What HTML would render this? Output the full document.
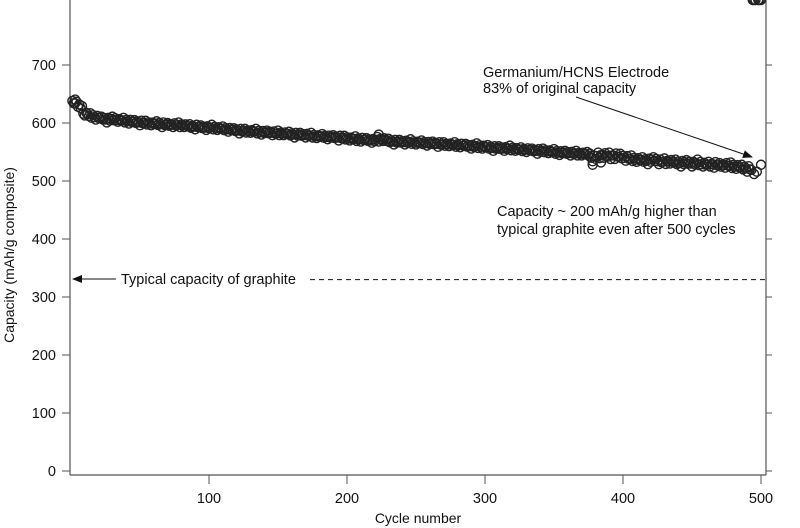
<!DOCTYPE html>
<html><head><meta charset="utf-8"><style>
html,body{margin:0;padding:0;background:#fff;}
svg{display:block;font-family:"Liberation Sans",sans-serif;}
</style></head><body>
<svg id="chart" width="800" height="528" viewBox="0 0 800 528" xmlns="http://www.w3.org/2000/svg">
<defs><marker id="ah" markerWidth="10" markerHeight="8" refX="9" refY="4" orient="auto" markerUnits="userSpaceOnUse"><path d="M0,0 L10,4 L0,8 z" fill="#111"/></marker></defs>
<g id="axes"></g>
<g id="marks"></g>
<g>
<text x="483" y="77" font-size="14.5" fill="#111">Germanium/HCNS Electrode</text>
<text x="483" y="93" font-size="14.5" fill="#111">83% of original capacity</text>
<line x1="576" y1="97" x2="752" y2="157" stroke="#111" stroke-width="1" marker-end="url(#ah)"/>
<text x="497" y="216" font-size="14.5" fill="#111">Capacity ~ 200 mAh/g higher than</text>
<text x="497" y="234" font-size="14.5" fill="#111">typical graphite even after 500 cycles</text>
<text x="121" y="284" font-size="14.5" fill="#111">Typical capacity of graphite</text>
<line x1="116" y1="279" x2="73" y2="279" stroke="#111" stroke-width="1" marker-end="url(#ah)"/>
<line id="graphline" x1="310" x2="766" stroke="#111" stroke-width="1" stroke-dasharray="5,4"/>
</g>
<text transform="translate(14,255) rotate(-90)" text-anchor="middle" font-size="14" fill="#111">Capacity (mAh/g composite)</text>
<text x="418" y="523" text-anchor="middle" font-size="14" fill="#111">Cycle number</text>
</svg>
<script>
const xTicks=[100,200,300,400,500];
const yTicks=[0,100,200,300,400,500,600,700];
const startCycle=1, cycleStep=4;
const capacity=[638,628,616,612,610,608,606,607,605,604,603,602,601,600,599,599,598,597,597,596,596,594,594,593,592,592,591,590,589,588,587,586,586,585,584,584,583,582,582,581,580,580,579,578,577,577,576,576,575,574,573,572,572,571,570,571,572,569,568,568,567,567,566,566,565,565,564,563,563,562,562,561,560,560,559,558,557,557,556,556,555,554,554,553,552,552,551,550,549,549,548,547,547,546,540,543,545,542,544,542,540,538,537,536,535,537,534,533,534,532,531,532,530,531,529,528,529,527,528,526,525,523,522,519,516];
const scatterOffset=[-4,4,-3,5,-4,3,-5,4,-3,5,-4,3,-5,4,-3,4,-5,3,-4,5,-3,4,-5,3,-4,5,-3,4,-4,3,-5,4,-3,5,-4,3,-4,5,-3,4,-5,3,-4,5,-3,4,-4,3,-5,4,-3,5,-4,3,-4,5,-3,4,-5,3,-4,5,-3,4,-4,3,-5,4,-3,5,-4,3,-4,5,-3,4,-5,3,-4,5,-3,4,-4,3,-5,4,-3,5,-4,3,-4,5,-3,4,-6,6,-5,7,-6,5,-5,6,-4,5,-6,4,-5,6,-4,5,-6,4,-5,6,-4,5,-6,4,-5,6,-4,5,-6];
const extraCycles=[3,223,378,384,500,495];
const extraCapacity=[634,580,528,532,528,512];
const graphiteCapacity=330;
const NS="http://www.w3.org/2000/svg";
const xs=c=>71+(c)*1.38;
const ys=v=>471-v*0.58;
const axes=document.getElementById('axes'), marks=document.getElementById('marks');
function mk(tag,attrs,parent){const e=document.createElementNS(NS,tag);for(const k in attrs)e.setAttribute(k,attrs[k]);parent.appendChild(e);return e;}
let l;
l=mk('line',{x1:70,y1:0,x2:70,y2:475,stroke:'#555','stroke-width':1.2},axes);


l=mk('line',{x1:766,y1:0,x2:766,y2:475,stroke:'#555','stroke-width':1.2},axes);


l=mk('line',{x1:70,y1:475,x2:766,y2:475,stroke:'#555','stroke-width':1.2},axes);


yTicks.forEach(v=>{
 let t=mk('line',{x1:62,x2:70,y1:ys(v),y2:ys(v),stroke:'#555'},axes);
 
 
 t=mk('line',{x1:766,x2:772,y1:ys(v),y2:ys(v),stroke:'#555'},axes);
 
 
 const tx=mk('text',{x:56,y:ys(v)+5,'text-anchor':'end','font-size':14.5,fill:'#111'},axes);
 tx.textContent=v;
 
 
});
xTicks.forEach(c=>{
 const t=mk('line',{x1:xs(c),x2:xs(c),y1:475,y2:484,stroke:'#555'},axes);
 
 
 const tx=mk('text',{x:xs(c),y:503,'text-anchor':'middle','font-size':14.5,fill:'#111'},axes);
 tx.textContent=c;
 
 
});
function pt(c,v){
 const p=mk('circle',{cx:xs(c),cy:ys(v),r:4.5,fill:'none',stroke:'#222','stroke-width':1.4},marks);
 
 
}
capacity.forEach((v,i)=>{
 const c=startCycle+i*cycleStep;
 pt(c,v);
 pt(c+1,v+scatterOffset[i]);
 pt(c+2,v-scatterOffset[i]*0.6);
 pt(c+3,v+scatterOffset[i]*0.3);
});
extraCycles.forEach((c,i)=>pt(c,extraCapacity[i]));
document.getElementById('graphline').setAttribute('y1',ys(graphiteCapacity));
document.getElementById('graphline').setAttribute('y2',ys(graphiteCapacity));
</script>
</body></html>
